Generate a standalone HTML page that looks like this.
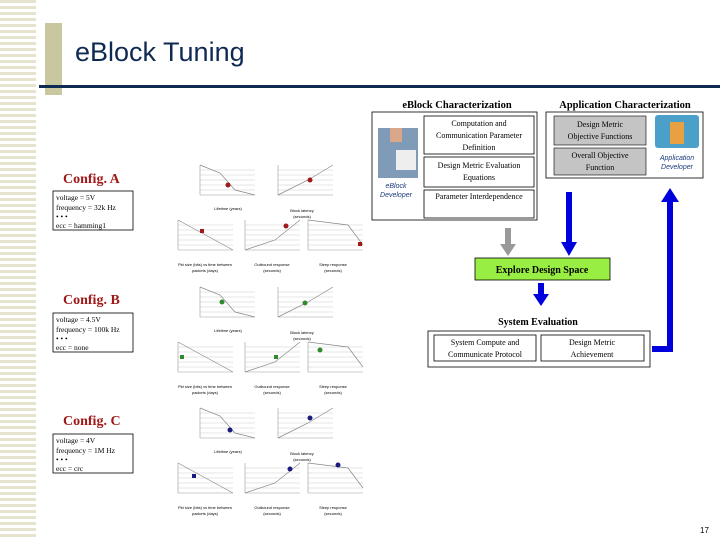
<!DOCTYPE html>
<html><head><meta charset="utf-8"><style>
body{margin:0;background:#fff;}
svg text{font-family:"Liberation Serif",serif;}
svg text.s{font-family:"Liberation Sans",sans-serif;}
</style></head><body>
<svg width="720" height="540" viewBox="0 0 720 540" xmlns="http://www.w3.org/2000/svg">
<defs>
<pattern id="stripe" width="36" height="6" patternUnits="userSpaceOnUse">
<rect width="36" height="6" fill="#fff"/><rect y="0" width="36" height="3" fill="#e6e3cf"/>
</pattern>
<g id="grid">
<line x1="0" y1="5" x2="55" y2="5" stroke="#ccc" stroke-width="0.6"/>
<line x1="0" y1="10" x2="55" y2="10" stroke="#ccc" stroke-width="0.6"/>
<line x1="0" y1="15" x2="55" y2="15" stroke="#ccc" stroke-width="0.6"/>
<line x1="0" y1="20" x2="55" y2="20" stroke="#ccc" stroke-width="0.6"/>
<line x1="0" y1="25" x2="55" y2="25" stroke="#ccc" stroke-width="0.6"/>
<line x1="0" y1="0" x2="0" y2="30" stroke="#999" stroke-width="0.6"/>
<line x1="0" y1="30" x2="55" y2="30" stroke="#999" stroke-width="0.6"/>
</g>
<g id="charts">
<g transform="translate(200,165)"><use href="#grid"/><polyline points="0,0 20,8 35,25 55,30" fill="none" stroke="#888" stroke-width="0.7"/></g>
<text class="s" x="228" y="210" font-size="4" text-anchor="middle">Lifetime (years)</text>
<g transform="translate(278,165)"><use href="#grid"/><polyline points="0,30 30,15 55,0" fill="none" stroke="#888" stroke-width="0.7"/></g>
<text class="s" x="302" y="212" font-size="4" text-anchor="middle">Block latency</text>
<text class="s" x="302" y="218" font-size="4" text-anchor="middle">(seconds)</text>
<g transform="translate(178,220)"><use href="#grid"/><polyline points="0,0 55,30" fill="none" stroke="#888" stroke-width="0.7"/></g>
<text class="s" x="205" y="266" font-size="4" text-anchor="middle">Pkt size (bits) vs time between</text>
<text class="s" x="205" y="272" font-size="4" text-anchor="middle">packets (days)</text>
<g transform="translate(245,220)"><use href="#grid"/><polyline points="0,30 30,20 55,0" fill="none" stroke="#888" stroke-width="0.7"/></g>
<text class="s" x="272" y="266" font-size="4" text-anchor="middle">Outbound response</text>
<text class="s" x="272" y="272" font-size="4" text-anchor="middle">(seconds)</text>
<g transform="translate(308,220)"><use href="#grid"/><polyline points="0,0 40,5 55,25" fill="none" stroke="#888" stroke-width="0.7"/></g>
<text class="s" x="333" y="266" font-size="4" text-anchor="middle">Sleep response</text>
<text class="s" x="333" y="272" font-size="4" text-anchor="middle">(seconds)</text>
</g>
</defs>

<rect x="0" y="0" width="36" height="540" fill="url(#stripe)"/>
<rect x="45" y="23" width="17" height="72" fill="#c8c79f"/>
<text class="s" x="75" y="61" font-size="27" fill="#0f2a52">eBlock Tuning</text>
<rect x="39" y="85" width="681" height="3" fill="#0f2a52"/>

<!-- Config A -->
<text x="63" y="183" font-size="14" font-weight="bold" fill="#a01818">Config. A</text>
<rect x="53" y="191" width="80" height="39" fill="#fff" stroke="#000" stroke-width="0.8"/>
<text x="56" y="200" font-size="7.5">voltage = 5V</text>
<text x="56" y="210" font-size="7.5">frequency = 32k Hz</text>
<text x="56" y="219" font-size="7.5">• • •</text>
<text x="56" y="228" font-size="7.5">ecc = hamming1</text>
<use href="#charts"/>
<g fill="#a01818"><circle cx="228" cy="185" r="2.5"/><circle cx="310" cy="180" r="2.5"/><rect x="200" y="229" width="4" height="4"/><circle cx="286" cy="226" r="2.5"/><rect x="358" y="242" width="4" height="4"/></g>

<!-- Config B -->
<text x="63" y="304" font-size="14" font-weight="bold" fill="#a01818">Config. B</text>
<rect x="53" y="313" width="80" height="39" fill="#fff" stroke="#000" stroke-width="0.8"/>
<text x="56" y="322" font-size="7.5">voltage = 4.5V</text>
<text x="56" y="332" font-size="7.5">frequency = 100k Hz</text>
<text x="56" y="341" font-size="7.5">• • •</text>
<text x="56" y="350" font-size="7.5">ecc = none</text>
<g transform="translate(0,122)"><use href="#charts"/>
<g fill="#2e8b2e"><circle cx="222" cy="180" r="2.5"/><circle cx="305" cy="181" r="2.5"/><rect x="180" y="233" width="4" height="4"/><rect x="274" y="233" width="4" height="4"/><circle cx="320" cy="228" r="2.5"/></g></g>

<!-- Config C -->
<text x="63" y="425" font-size="14" font-weight="bold" fill="#a01818">Config. C</text>
<rect x="53" y="434" width="80" height="39" fill="#fff" stroke="#000" stroke-width="0.8"/>
<text x="56" y="443" font-size="7.5">voltage = 4V</text>
<text x="56" y="453" font-size="7.5">frequency = 1M Hz</text>
<text x="56" y="462" font-size="7.5">• • •</text>
<text x="56" y="471" font-size="7.5">ecc = crc</text>
<g transform="translate(0,243)"><use href="#charts"/>
<g fill="#1a1a80"><circle cx="230" cy="187" r="2.5"/><circle cx="310" cy="175" r="2.5"/><rect x="192" y="231" width="4" height="4"/><circle cx="290" cy="226" r="2.5"/><circle cx="338" cy="222" r="2.5"/></g></g>

<!-- Right side -->
<text x="457" y="108" font-size="10.5" font-weight="bold" text-anchor="middle">eBlock Characterization</text>
<text x="625" y="108" font-size="10.5" font-weight="bold" text-anchor="middle">Application Characterization</text>
<rect x="372" y="112" width="165" height="108" fill="#fff" stroke="#000" stroke-width="0.8"/>
<rect x="378" y="128" width="40" height="50" fill="#7f9bb8"/>
<rect x="390" y="128" width="12" height="14" fill="#d9a88a"/>
<rect x="396" y="150" width="20" height="20" fill="#eee"/>
<text class="s" x="396" y="188" font-size="7" font-style="italic" fill="#1a3a7a" text-anchor="middle">eBlock</text>
<text class="s" x="396" y="197" font-size="7" font-style="italic" fill="#1a3a7a" text-anchor="middle">Developer</text>
<rect x="424" y="116" width="110" height="38" fill="#fff" stroke="#000" stroke-width="0.8"/>
<text x="479" y="126" font-size="8" text-anchor="middle">Computation and</text>
<text x="479" y="138" font-size="8" text-anchor="middle">Communication Parameter</text>
<text x="479" y="150" font-size="8" text-anchor="middle">Definition</text>
<rect x="424" y="157" width="110" height="30" fill="#fff" stroke="#000" stroke-width="0.8"/>
<text x="479" y="168" font-size="8" text-anchor="middle">Design Metric Evaluation</text>
<text x="479" y="180" font-size="8" text-anchor="middle">Equations</text>
<rect x="424" y="190" width="110" height="28" fill="#fff" stroke="#000" stroke-width="0.8"/>
<text x="479" y="199" font-size="8" text-anchor="middle">Parameter Interdependence</text>

<rect x="546" y="112" width="157" height="66" fill="#fff" stroke="#000" stroke-width="0.8"/>
<rect x="554" y="116" width="92" height="29" fill="#c4c4c4" stroke="#000" stroke-width="0.6"/>
<text x="600" y="127" font-size="8" text-anchor="middle">Design Metric</text>
<text x="600" y="139" font-size="8" text-anchor="middle">Objective Functions</text>
<rect x="554" y="148" width="92" height="27" fill="#c4c4c4" stroke="#000" stroke-width="0.6"/>
<text x="600" y="158" font-size="8" text-anchor="middle">Overall Objective</text>
<text x="600" y="170" font-size="8" text-anchor="middle">Function</text>
<rect x="655" y="115" width="44" height="33" rx="3" fill="#4aa0c8"/>
<rect x="670" y="122" width="14" height="22" fill="#e8a040"/>
<text class="s" x="677" y="160" font-size="7" font-style="italic" fill="#1a3a7a" text-anchor="middle">Application</text>
<text class="s" x="677" y="169" font-size="7" font-style="italic" fill="#1a3a7a" text-anchor="middle">Developer</text>

<!-- arrows -->
<rect x="505" y="228" width="6" height="17" fill="#999"/>
<polygon points="500,244 516,244 508,256" fill="#999"/>
<rect x="566" y="192" width="6" height="51" fill="#0000dd"/>
<polygon points="561,242 577,242 569,256" fill="#0000dd"/>

<rect x="475" y="258" width="135" height="22" fill="#99ee44" stroke="#000" stroke-width="0.8"/>
<text x="542" y="273" font-size="10" font-weight="bold" text-anchor="middle">Explore Design Space</text>
<rect x="538" y="283" width="6" height="12" fill="#0000dd"/>
<polygon points="533,294 549,294 541,306" fill="#0000dd"/>

<text x="538" y="325" font-size="10" font-weight="bold" text-anchor="middle">System Evaluation</text>
<rect x="428" y="331" width="222" height="36" fill="#fff" stroke="#000" stroke-width="0.8"/>
<rect x="434" y="335" width="102" height="26" fill="#fff" stroke="#000" stroke-width="0.8"/>
<text x="485" y="345" font-size="8" text-anchor="middle">System Compute and</text>
<text x="485" y="357" font-size="8" text-anchor="middle">Communicate Protocol</text>
<rect x="541" y="335" width="103" height="26" fill="#fff" stroke="#000" stroke-width="0.8"/>
<text x="592" y="345" font-size="8" text-anchor="middle">Design Metric</text>
<text x="592" y="357" font-size="8" text-anchor="middle">Achievement</text>

<polyline points="652,349 670,349 670,200" fill="none" stroke="#0000dd" stroke-width="6"/>
<polygon points="661,202 679,202 670,188" fill="#0000dd"/>

<text class="s" x="700" y="533" font-size="8">17</text>
</svg>
</body></html>
